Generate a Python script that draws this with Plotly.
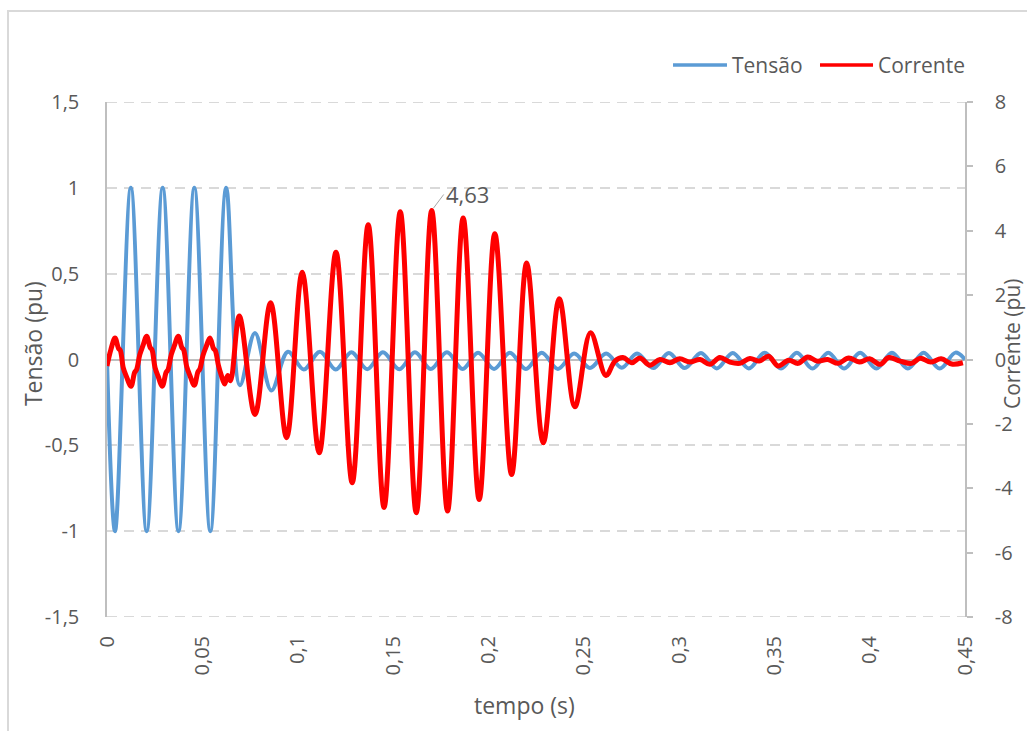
import plotly.graph_objects as go

# Tensão (pu): instantes (s) e valores nos picos/vales da forma de onda
tempo_tensao = [
    0.0000, 0.0042, 0.0125, 0.0208, 0.0292, 0.0375, 0.0458, 0.0542, 0.0625,
    0.0697, 0.0776, 0.0862, 0.0949, 0.1032, 0.1117, 0.1200, 0.1282, 0.1365,
    0.1447, 0.1533, 0.1615, 0.1698, 0.1783, 0.1865, 0.1946, 0.2030, 0.2113,
    0.2197, 0.2280, 0.2365, 0.2450, 0.2533, 0.2618, 0.2700, 0.2780, 0.2865,
    0.2947, 0.3030, 0.3115, 0.3198, 0.3282, 0.3366, 0.3450, 0.3535, 0.3618,
    0.3700, 0.3783, 0.3866, 0.3950, 0.4035, 0.4117, 0.4200, 0.4283, 0.4367,
    0.4450, 0.4500,
]
tensao = [
    0.00, -1.00, 1.00, -1.00, 1.00, -1.00, 1.00, -1.00, 1.00,
    -0.15, 0.155, -0.18, 0.045, -0.058, 0.045, -0.058, 0.042, -0.057,
    0.042, -0.057, 0.042, -0.056, 0.042, -0.055, 0.040, -0.055, 0.040,
    -0.055, 0.040, -0.055, 0.035, -0.050, 0.035, -0.048, 0.035, -0.050,
    0.038, -0.050, 0.038, -0.052, 0.038, -0.052, 0.040, -0.053, 0.040,
    -0.053, 0.040, -0.053, 0.040, -0.053, 0.040, -0.053, 0.040, -0.053,
    0.040, 0.000,
]

# Corrente (pu): instantes (s) e valores lidos ao longo da forma de onda
tempo_corrente = [
    0.0000, 0.0020, 0.0042, 0.0060, 0.0070, 0.0085, 0.0100, 0.0126,
    0.0145, 0.0155, 0.0172, 0.0188, 0.0208, 0.0226, 0.0236, 0.0252,
    0.0268, 0.0290, 0.0310, 0.0320, 0.0337, 0.0353, 0.0374, 0.0392,
    0.0402, 0.0418, 0.0435, 0.0458, 0.0477, 0.0487, 0.0503, 0.0520,
    0.0540, 0.0558, 0.0568, 0.0585, 0.0600, 0.0617, 0.0633, 0.0648,
    0.0694, 0.0776, 0.0858, 0.0942, 0.1024, 0.1113, 0.1201, 0.1286,
    0.1370, 0.1453, 0.1538, 0.1622, 0.1703, 0.1786, 0.1868, 0.1952,
    0.2034, 0.2122, 0.2201, 0.2288, 0.2372, 0.2454, 0.2536, 0.2617,
    0.2664, 0.2706, 0.2753, 0.2795, 0.2847, 0.2900, 0.2952, 0.3004,
    0.3057, 0.3110, 0.3162, 0.3214, 0.3267, 0.3319, 0.3372, 0.3420,
    0.3470, 0.3520, 0.3575, 0.3625, 0.3675, 0.3725, 0.3780, 0.3835,
    0.3890, 0.3945, 0.4000, 0.4055, 0.4100, 0.4160, 0.4220, 0.4265,
    0.4320, 0.4375, 0.4430, 0.4489,
]
corrente = [
    -0.20, 0.30, 0.67, 0.35, 0.28, -0.25, -0.50, -0.83,
    -0.40, -0.32, 0.15, 0.42, 0.72, 0.38, 0.30, -0.25,
    -0.52, -0.83, -0.40, -0.32, 0.15, 0.42, 0.72, 0.38,
    0.30, -0.22, -0.50, -0.80, -0.38, -0.30, 0.12, 0.40,
    0.67, 0.35, 0.28, -0.20, -0.50, -0.76, -0.50, -0.66,
    1.35, -1.71, 1.76, -2.43, 2.71, -2.90, 3.33, -3.83,
    4.19, -4.60, 4.59, -4.76, 4.63, -4.71, 4.40, -4.35,
    3.91, -3.57, 3.00, -2.59, 1.89, -1.47, 0.83, -0.50,
    -0.05, 0.06, -0.10, 0.05, -0.18, 0.00, -0.10, 0.02,
    -0.08, 0.00, -0.15, 0.06, -0.08, -0.12, 0.03, -0.05,
    0.10, -0.20, -0.02, -0.12, 0.08, -0.05, 0.00, -0.12,
    0.05, -0.08, 0.02, -0.15, 0.06, -0.05, -0.12, 0.04,
    -0.08, 0.02, -0.14, -0.10,
]

# Rótulos dos eixos (separador decimal vírgula)
x_ticks = [0, 0.05, 0.10, 0.15, 0.20, 0.25, 0.30, 0.35, 0.40, 0.45]
x_labels = ["0", "0,05", "0,1", "0,15", "0,2", "0,25", "0,3", "0,35", "0,4", "0,45"]
y_ticks = [-1.5, -1.0, -0.5, 0.0, 0.5, 1.0, 1.5]
y_labels = ["-1,5", "-1", "-0,5", "0", "0,5", "1", "1,5"]
y2_ticks = [-8, -6, -4, -2, 0, 2, 4, 6, 8]
y2_labels = ["-8", "-6", "-4", "-2", "0", "2", "4", "6", "8"]

pico_tempo = 0.1703
pico_valor = 4.63

AZUL = "#5B9BD5"
VERMELHO = "#FF0000"
TEXTO = "#595959"
LINHA = "#BFBFBF"
GRADE = "#D9D9D9"
FONTE = "Open Sans"
TRACO_GRADE = "10px,7px"

fig = go.Figure()

fig.add_trace(go.Scatter(
    x=tempo_tensao, y=tensao, name="Tensão", mode="lines",
    line=dict(color=AZUL, width=4, shape="spline", smoothing=1),
    yaxis="y",
))
fig.add_trace(go.Scatter(
    x=tempo_corrente, y=corrente, name="Corrente", mode="lines",
    line=dict(color=VERMELHO, width=5, shape="spline", smoothing=1),
    yaxis="y2",
))

fig.update_layout(
    width=1027, height=731,
    margin=dict(l=107, r=62, t=102, b=114),
    paper_bgcolor="white", plot_bgcolor="white",
    separators=",.",
    showlegend=False,
    font=dict(family=FONTE, size=20, color=TEXTO),
    xaxis=dict(
        range=[0, 0.45], tickmode="array", tickvals=x_ticks, ticktext=x_labels,
        tickangle=-90, showgrid=False, zeroline=False, showline=False,
        ticks="", ticklabelstandoff=14,
        tickfont=dict(family=FONTE, size=20, color=TEXTO),
    ),
    yaxis=dict(
        range=[-1.5, 1.5], tickmode="array", tickvals=y_ticks, ticktext=y_labels,
        showgrid=True, gridcolor=GRADE, gridwidth=2, griddash=TRACO_GRADE,
        zeroline=True, zerolinecolor=LINHA, zerolinewidth=1.5,
        showline=True, linecolor=LINHA, linewidth=1.5,
        ticks="", ticklabelstandoff=22,
        tickfont=dict(family=FONTE, size=20, color=TEXTO),
    ),
    yaxis2=dict(
        range=[-8, 8], tickmode="array", tickvals=y2_ticks, ticktext=y2_labels,
        overlaying="y", side="right",
        showgrid=False, zeroline=False,
        showline=True, linecolor=LINHA, linewidth=1.5,
        ticks="outside", ticklen=6, tickcolor=LINHA, tickwidth=1.5,
        ticklabelstandoff=18,
        tickfont=dict(family=FONTE, size=20, color=TEXTO),
    ),
)

# Linhas de grade nas extremidades do eixo esquerdo
for yv in (y_ticks[0], y_ticks[-1]):
    fig.add_shape(type="line", xref="paper", yref="y", x0=0, x1=1, y0=yv, y1=yv,
                  line=dict(color=GRADE, width=2, dash=TRACO_GRADE), layer="below")

# Títulos dos eixos
fig.add_annotation(text="Tensão (pu)", xref="paper", yref="paper",
                   x=-0.0862, y=0.53, textangle=-90, showarrow=False,
                   xanchor="center", yanchor="middle",
                   font=dict(family=FONTE, size=23, color=TEXTO))
fig.add_annotation(text="Corrente (pu)", xref="paper", yref="paper",
                   x=1.0548, y=0.53, textangle=-90, showarrow=False,
                   xanchor="center", yanchor="middle",
                   font=dict(family=FONTE, size=21, color=TEXTO))
fig.add_annotation(text="tempo (s)", xref="paper", yref="paper",
                   x=0.487, y=-0.171, showarrow=False,
                   xanchor="center", yanchor="middle",
                   font=dict(family=FONTE, size=23, color=TEXTO))

# Rótulo do pico de corrente
fig.add_annotation(text=f"{pico_valor:.2f}".replace(".", ","),
                   x=pico_tempo, y=pico_valor, xref="x", yref="y2",
                   showarrow=True, arrowhead=0, arrowwidth=1, arrowcolor="#A6A6A6",
                   ax=12, ay=-16, xanchor="left", yanchor="middle", standoff=3,
                   font=dict(family=FONTE, size=22, color=TEXTO))

# Legenda
for x0, x1, cor, nome in [(0.6597, 0.7226, AZUL, "Tensão"),
                          (0.8310, 0.8928, VERMELHO, "Corrente")]:
    fig.add_shape(type="line", xref="paper", yref="paper",
                  x0=x0, x1=x1, y0=1.0718, y1=1.0718,
                  line=dict(color=cor, width=3.5))
    fig.add_annotation(text=nome, xref="paper", yref="paper",
                       x=x1 + 0.003, y=1.0718, xanchor="left", yanchor="middle",
                       showarrow=False, font=dict(family=FONTE, size=21, color=TEXTO))

# Moldura da área do gráfico
fig.add_shape(type="rect", xref="paper", yref="paper",
              x0=-0.1154, y0=-0.2388, x1=1.0816, y1=1.1767,
              line=dict(color=GRADE, width=2), layer="below")

fig.write_html("out.html")
